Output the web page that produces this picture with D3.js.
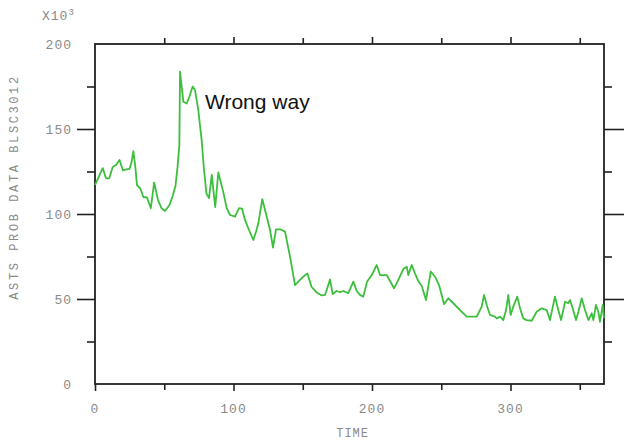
<!DOCTYPE html>
<html>
<head>
<meta charset="utf-8">
<script src="https://cdn.jsdelivr.net/npm/d3@7"></script>
<style>
  body { margin: 0; background: #fff; }
  svg { display: block; }
</style>
</head>
<body>
<svg id="chart" width="625" height="443"></svg>
<script>
// time (x) and value in thousands (y)
const times = [0, 2.2, 5.6, 7.9, 10.3, 12.8, 15.2, 17.7, 20.2, 22.7, 24.9, 26.4, 27.7, 29.2, 30.3, 32.7, 34.9, 37.5, 40.3, 42.7,
  45.5, 48, 50.5, 53.8, 56.3, 58.1, 59.6, 60.9, 61.4, 63.8, 66.2, 68.1, 70.5, 72.2, 74.6, 77, 78.7, 80.5, 82.3, 84.3,
  86.8, 89, 92.6, 95.1, 97.5, 101.1, 104, 106.1, 108.3, 111.2, 114.3, 116.2, 117.9, 120.8, 124, 126.4, 128.5, 130.7, 133.6, 137.2,
  140.8, 144.4, 148, 150.4, 153.3, 156.3, 160.1, 163.7, 166.1, 169.7, 171.6, 174.5, 176.9, 179.3, 182.9, 186.5, 189, 191.3, 193.7, 196.4,
  199.8, 203.4, 205.8, 208.2, 210.6, 213, 215.9, 219, 222.6, 225.1, 226.2, 228.7, 231, 233.4, 235.9, 239, 242.4, 245.5, 248.4, 252,
  255.1, 258.7, 263.5, 268.4, 275.6, 279.2, 280.9, 283, 285.2, 288.8, 290, 292.4, 294.8, 296.8, 298.4, 300.1, 302, 304.9, 306.9, 309.2,
  311.7, 315.3, 318.9, 322.5, 326.1, 328.5, 332.1, 334.5, 336.5, 338.1, 339.4, 341.7, 343, 344.9, 347.3, 349, 351.4, 353.8, 356.2, 358.6,
  359.8, 361.7, 363.4, 364.6, 366.6, 367.5];
const values = [117, 121, 127, 121, 121, 127.6, 128.8, 131.8, 125.6, 126.2, 126.5, 130.6, 137, 127, 117, 115, 110, 109.7, 103.4, 118.5,
  108.2, 103.4, 101.8, 105.3, 111.2, 116.5, 127.6, 140.6, 183.7, 166, 165, 169, 175, 173, 161, 143.5, 126, 112, 109.4, 123,
  104, 124.4, 113, 103.4, 99.4, 98.4, 103.5, 103.2, 96.5, 90.6, 84.7, 89.4, 94.5, 108.8, 98.4, 90.6, 80.3, 90.9, 91, 89.6,
  74.9, 58.2, 61.2, 63.1, 65.1, 57.2, 53.8, 52.1, 52.4, 61.5, 52.9, 54.7, 54.1, 54.7, 53.5, 60.2, 54.7, 52.4, 51.4, 60.2,
  64.1, 70, 64.1, 64.1, 64.1, 60.6, 56.3, 61.2, 67.6, 69, 64.1, 70, 65.1, 60.6, 57.6, 49.4, 66.1, 63.1, 58.2, 47,
  50.4, 47.5, 43.5, 39.6, 39.6, 45.5, 52.4, 45.9, 40.6, 39.6, 38.6, 39.6, 37.6, 43.5, 52.4, 40.6, 45.5, 51.4, 44.5, 38.6,
  37.6, 37.2, 42.5, 44.5, 43.5, 37.6, 51.4, 43.5, 37.6, 43.5, 48.4, 47.5, 49.4, 44.5, 37.6, 42.5, 50.4, 43.5, 37.6, 41.6,
  37.6, 46.5, 42.5, 36.6, 46.5, 38.8];

const xMajor = [0, 100, 200, 300];
const xMinor = [50, 150, 250, 350];
const yLabels = [0, 50, 100, 150, 200];
const yMajor = [50, 100, 150];
const yMinor = [25, 75, 125, 175];

const svg = d3.select("#chart");
const box = { left: 95, right: 604, top: 44, bottom: 384 };

const x = d3.scaleLinear().domain([0, 367.5]).range([box.left, box.right]);
const y = d3.scaleLinear().domain([0, 200]).range([box.bottom, box.top]);

const tickFont = "'Liberation Mono', 'DejaVu Sans Mono', monospace";
const grey = "#8a8a8a";

function styleAxis(g) {
  g.select(".domain").remove();
  g.selectAll("line").attr("stroke", "#222").attr("stroke-width", 1.6);
}

// ticks on the four sides, all pointing outward
svg.append("g").attr("transform", `translate(0,${box.bottom})`)
  .call(d3.axisBottom(x).tickValues(xMajor).tickSize(7).tickFormat(""))
  .call(styleAxis);
svg.append("g").attr("transform", `translate(0,${box.bottom})`)
  .call(d3.axisBottom(x).tickValues(xMinor).tickSize(6).tickFormat(""))
  .call(styleAxis);
svg.append("g").attr("transform", `translate(0,${box.top})`)
  .call(d3.axisTop(x).tickValues(xMajor.filter(d => d > 0)).tickSize(7).tickFormat(""))
  .call(styleAxis);
svg.append("g").attr("transform", `translate(0,${box.top})`)
  .call(d3.axisTop(x).tickValues(xMinor).tickSize(6).tickFormat(""))
  .call(styleAxis);
svg.append("g").attr("transform", `translate(${box.left},0)`)
  .call(d3.axisLeft(y).tickValues(yMajor).tickSize(18).tickFormat(""))
  .call(styleAxis);
svg.append("g").attr("transform", `translate(${box.left},0)`)
  .call(d3.axisLeft(y).tickValues(yMinor).tickSize(8).tickFormat(""))
  .call(styleAxis);
svg.append("g").attr("transform", `translate(${box.right},0)`)
  .call(d3.axisRight(y).tickValues(yMajor).tickSize(20).tickFormat(""))
  .call(styleAxis);
svg.append("g").attr("transform", `translate(${box.right},0)`)
  .call(d3.axisRight(y).tickValues(yMinor).tickSize(8).tickFormat(""))
  .call(styleAxis);

// frame
svg.append("rect")
  .attr("x", box.left).attr("y", box.top)
  .attr("width", box.right - box.left).attr("height", box.bottom - box.top)
  .attr("fill", "none").attr("stroke", "#222").attr("stroke-width", 1.8);

// data line
const line = d3.line().x((d, i) => x(times[i])).y(d => y(d));
svg.append("path")
  .datum(values)
  .attr("d", line)
  .attr("fill", "none")
  .attr("stroke", "#3cbf3c")
  .attr("stroke-width", 1.8)
  .attr("stroke-linejoin", "round");

// tick labels
svg.append("g").selectAll("text")
  .data(yLabels).join("text")
  .attr("x", 72).attr("y", d => y(d))
  .attr("dy", "0.35em")
  .attr("text-anchor", "end")
  .style("font-family", tickFont).style("font-size", "13px")
  .style("letter-spacing", "1px")
  .attr("fill", grey)
  .text(d => d);

svg.append("g").selectAll("text")
  .data(xMajor).join("text")
  .attr("x", d => x(d)).attr("y", 408)
  .attr("dy", "0.35em")
  .attr("text-anchor", "middle")
  .style("font-family", tickFont).style("font-size", "13px")
  .style("letter-spacing", "1px")
  .attr("fill", grey)
  .text(d => d);

// multiplier
const mult = svg.append("text")
  .attr("x", 42).attr("y", 20)
  .style("font-family", tickFont).style("font-size", "13px")
  .style("letter-spacing", "1px")
  .attr("fill", grey);
mult.append("tspan").text("X10");
mult.append("tspan").attr("dy", -5).style("font-size", "9px").text("3");

// axis titles
svg.append("text")
  .attr("x", x(186)).attr("y", 433)
  .attr("dy", "0.35em")
  .attr("text-anchor", "middle")
  .style("font-family", tickFont).style("font-size", "12px")
  .style("letter-spacing", "1px")
  .attr("fill", grey)
  .text("TIME");

svg.append("text")
  .attr("transform", `translate(14,${y(100) - 27}) rotate(-90)`)
  .attr("dy", "0.35em")
  .attr("text-anchor", "middle")
  .style("font-family", tickFont).style("font-size", "12px")
  .style("letter-spacing", "2.6px")
  .attr("fill", grey)
  .text("ASTS PROB DATA BLSC3012");

// annotation
svg.append("text")
  .attr("x", 205).attr("y", 109)
  .style("font-family", "'Liberation Sans', Arial, sans-serif")
  .style("font-size", "21px")
  .attr("fill", "#111")
  .text("Wrong way");
</script>
</body>
</html>
